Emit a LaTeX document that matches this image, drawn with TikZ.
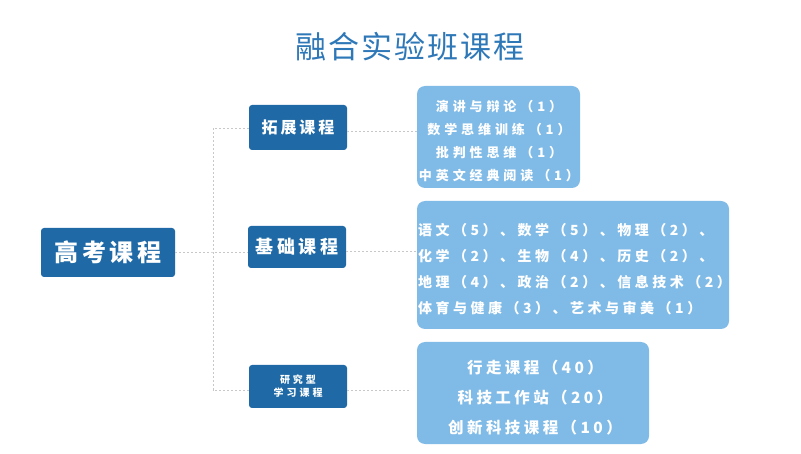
\documentclass[tikz,border=0pt]{standalone}
\usepackage{fontspec}
\newfontfamily\cjk{Noto Sans CJK SC}
\definecolor{darkblue}{RGB}{31,106,166}
\definecolor{lightblue}{RGB}{128,187,231}
\definecolor{titleblue}{RGB}{46,120,184}
\definecolor{linkgray}{RGB}{200,200,200}
\newcommand{\fs}[3]{\fontsize{#1}{#2}\selectfont\addfontfeatures{LetterSpace=#3}}
\begin{document}
\begin{tikzpicture}[x=1pt,y=-1pt,
  darkbox/.style={fill=darkblue, rounded corners=3pt, text=white, inner sep=0pt},
  lightbox/.style={fill=lightblue, rounded corners=8pt, inner sep=0pt},
  lighttext/.style={text=white, inner sep=0pt},
  link/.style={draw=linkgray, dash pattern=on 2pt off 2pt, line width=0.7pt}]
\useasboundingbox (0,0) rectangle (801,454);
\node[text=titleblue, font={\cjk\fs{31}{36}{6}}] (title) at (410,47) {融合实验班课程};
\node[darkbox, minimum width=134pt, minimum height=49pt, font={\cjk\bfseries\fs{24}{28}{16}}] (gaokao) at (108,252.5) {高考课程};
\node[darkbox, minimum width=98pt, minimum height=45pt, font={\cjk\bfseries\fs{16}{20}{18}}] (tuozhan) at (298,127.5) {拓展课程};
\node[darkbox, minimum width=98pt, minimum height=42pt, font={\cjk\bfseries\fs{18}{22}{20}}] (jichu) at (297,247) {基础课程};
\node[darkbox, minimum width=98pt, minimum height=43pt, align=center, font={\cjk\bfseries\fs{10}{13}{30}}] (yanjiu) at (298,386.5) {研究型\\学习课程};
\node[lightbox, minimum width=163pt, minimum height=102pt] (box1) at (498.5,137) {};
\node[lighttext, align=center, font={\cjk\bfseries\fs{13}{22.7}{30}}] (box1t) at (499,141)
  {演讲与辩论（1）\\数学思维训练（1）\\批判性思维（1）\\中英文经典阅读（1）};
\node[lightbox, minimum width=312pt, minimum height=128pt] (box2) at (573,265) {};
\node[lighttext, align=left, anchor=west, font={\cjk\bfseries\fs{14}{25.8}{25}}] (box2t) at (418,269)
  {语文（5）、数学（5）、物理（2）、\\化学（2）、生物（4）、历史（2）、\\地理（4）、政治（2）、信息技术（2）\\体育与健康（3）、艺术与审美（1）};
\node[lightbox, minimum width=232pt, minimum height=102pt] (box3) at (533,393) {};
\node[lighttext, align=center, font={\cjk\bfseries\fs{15.5}{30}{22}}] (box3t) at (535,398)
  {行走课程（40）\\科技工作站（20）\\创新科技课程（10）};
\coordinate (jt) at (213,128);
\coordinate (jm) at (213,252);
\coordinate (jb) at (213,390);
\coordinate (r1) at (box1.west |- 0,131.5);
\coordinate (r3) at (409,390);
\draw[link] (gaokao.east |- jm) -- (jm) -- (jichu.west |- jm);
\draw[link] (tuozhan.west |- jt) -- (jt) -- (jb) -- (yanjiu.west |- jb);
\draw[link] (tuozhan.east |- r1) -- (r1);
\draw[link] (jichu.east |- 0,251) -- (box2.west |- 0,251);
\draw[link] (yanjiu.east |- jb) -- (r3);
\end{tikzpicture}
\end{document}
